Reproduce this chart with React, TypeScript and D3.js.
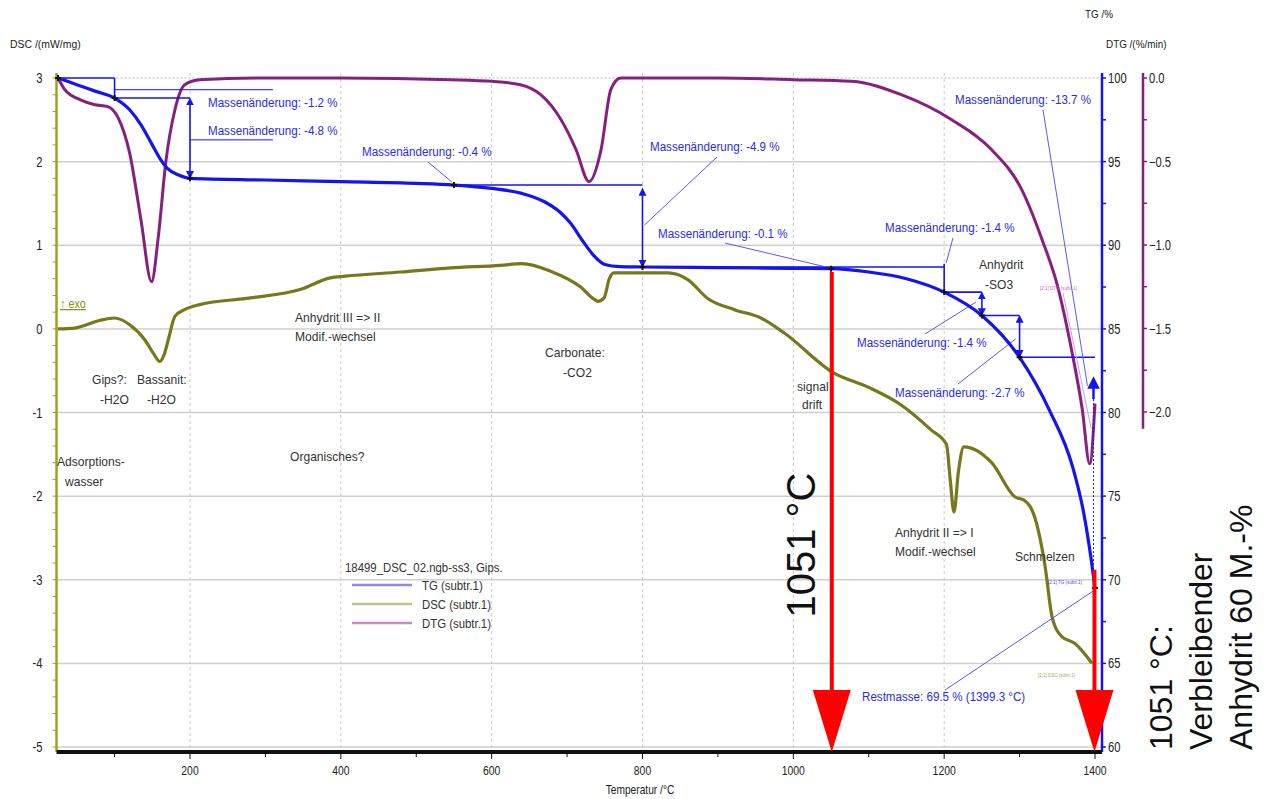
import React, { useEffect, useRef } from 'react';
import * as d3 from 'd3';

// TG (%) vs temperature (°C)
const tgData: [number, number][] = [
  [25, 100], [50, 99.6], [75, 99.2], [100, 98.8], [120, 98.1], [135, 97.2], [150, 96.0],
  [160, 95.2], [170, 94.6], [185, 94.2], [200, 94.0], [300, 93.9], [400, 93.8], [500, 93.7],
  [550, 93.6], [600, 93.4], [640, 93.1], [670, 92.6], [690, 92.0], [705, 91.3], [720, 90.3],
  [735, 89.4], [750, 88.85], [770, 88.72], [800, 88.7], [900, 88.66], [1000, 88.62],
  [1050, 88.6], [1100, 88.4], [1150, 88.0], [1200, 87.2], [1250, 85.8], [1300, 83.3],
  [1340, 80.1], [1370, 76.8], [1385, 74.0], [1395, 71.2], [1400, 69.5],
];

// DSC (mW/mg)
const dscData: [number, number][] = [
  [25, 0.0], [47, 0.01], [80, 0.1], [100, 0.13], [120, 0.05], [140, -0.13], [152, -0.3],
  [160, -0.39], [166, -0.3], [172, -0.1], [180, 0.15], [193, 0.23], [213, 0.29], [280, 0.37],
  [346, 0.47], [386, 0.61], [406, 0.63], [479, 0.68], [545, 0.73], [612, 0.76], [640, 0.78],
  [678, 0.69], [718, 0.5], [735, 0.36], [741, 0.33], [749, 0.37], [756, 0.6], [762, 0.67],
  [834, 0.67], [860, 0.59], [887, 0.36], [922, 0.23], [957, 0.13], [988, -0.05], [1054, -0.53],
  [1100, -0.7], [1143, -0.91], [1183, -1.21], [1203, -1.38], [1208, -1.8], [1213, -2.19],
  [1219, -1.7], [1226, -1.41], [1263, -1.6], [1294, -2.01], [1306, -2.05], [1320, -2.25],
  [1334, -2.85], [1343, -3.44], [1356, -3.68], [1373, -3.76], [1396, -4.0],
];

// DTG (%/min)
const dtgData: [number, number][] = [
  [25, 0.0], [34, -0.07], [54, -0.13], [74, -0.16], [90, -0.17], [105, -0.24], [120, -0.45],
  [135, -0.85], [149, -1.22], [158, -0.95], [168, -0.5], [180, -0.19], [193, -0.04],
  [213, -0.01], [300, 0.0], [400, 0.0], [545, -0.01], [600, -0.02], [638, -0.04], [665, -0.1],
  [692, -0.25], [712, -0.43], [729, -0.62], [745, -0.43], [758, -0.07], [771, 0.0], [900, 0.0],
  [1000, -0.01], [1077, -0.02], [1143, -0.1], [1210, -0.25], [1263, -0.43], [1303, -0.67],
  [1330, -0.97], [1350, -1.24], [1369, -1.63], [1383, -1.98], [1393, -2.31], [1400, -1.95],
];

const dscTicks = [3, 2, 1, 0, -1, -2, -3, -4, -5];
const tgTicks = [100, 95, 90, 85, 80, 75, 70, 65, 60];
const dtgTicks = [0, -0.5, -1, -1.5, -2];
const tempTicks = [200, 400, 600, 800, 1000, 1200, 1400];

// step points (T, TG) marked on the TG curve
const stepPoints: [number, number][] = [
  [100, 98.8], [200, 94.0], [550, 93.6], [800, 88.7], [1050, 88.6],
  [1200, 87.2], [1250, 85.8], [1300, 83.3], [1400, 69.5],
];
const stepLabels = ['-1.2', '-4.8', '-0.4', '-4.9', '-0.1', '-1.4', '-1.4', '-2.7', '-13.7'];

const notes = [
  { x: 92, y: 384, lines: ['Gips?:'] },
  { x: 100, y: 404, lines: ['-H2O'] },
  { x: 137, y: 384, lines: ['Bassanit:'] },
  { x: 147, y: 404, lines: ['-H2O'] },
  { x: 57, y: 466, lines: ['Adsorptions-'] },
  { x: 65, y: 486, lines: ['wasser'] },
  { x: 295, y: 322, lines: ['Anhydrit III => II', 'Modif.-wechsel'] },
  { x: 290, y: 461, lines: ['Organisches?'] },
  { x: 545, y: 357, lines: ['Carbonate:'] },
  { x: 563, y: 377, lines: ['-CO2'] },
  { x: 797, y: 391, lines: ['signal'] },
  { x: 802, y: 409, lines: ['drift'] },
  { x: 979, y: 269, lines: ['Anhydrit'] },
  { x: 985, y: 289, lines: ['-SO3'] },
  { x: 895, y: 537, lines: ['Anhydrit II => I', 'Modif.-wechsel'] },
  { x: 1015, y: 561, lines: ['Schmelzen'] },
];

const legendItems = [
  { name: 'TG (subtr.1)', color: '#8c8cf0' },
  { name: 'DSC (subtr.1)', color: '#c4c48a' },
  { name: 'DTG (subtr.1)', color: '#c98cc4' },
];

const W = 1276;
const H = 799;
const FONT = '"Liberation Sans", Arial, sans-serif';

const BLUE = '#1414f0';
const OLIVE = '#77771c';
const PURPLE = '#86207e';

type Sel = d3.Selection<SVGGElement, unknown, null, undefined>;

// squashed text, mimics the narrow font of the original export
const label = (
  g: Sel | d3.Selection<SVGSVGElement, unknown, null, undefined>,
  x: number,
  y: number,
  text: string,
  opts: { size?: number; sx?: number; fill?: string; anchor?: string } = {}
) =>
  (g as any)
    .append('text')
    .attr('transform', `translate(${x},${y}) scale(${opts.sx ?? 0.9},1)`)
    .attr('text-anchor', opts.anchor ?? 'start')
    .attr('font-family', FONT)
    .attr('font-size', opts.size ?? 13)
    .attr('fill', opts.fill ?? '#222')
    .text(text);

const App: React.FC = () => {
  const svgRef = useRef<SVGSVGElement>(null);

  useEffect(() => {
    if (!svgRef.current) return;
    const svg = d3.select(svgRef.current);
    svg.selectAll('*').remove();

    const x = d3.scaleLinear().domain([200, 1400]).range([190, 1095]);
    const yDsc = d3.scaleLinear().domain([3, -5]).range([78, 747]);
    const yTg = d3.scaleLinear().domain([100, 60]).range([78, 747]);
    const yDtg = d3.scaleLinear().domain([0, -2]).range([78, 412]);

    const left = x(23);
    const right = 1102;
    const top = 73;
    const bottom = 752;

    // grid
    const grid = svg.append('g');
    grid.selectAll('line.h')
      .data(dscTicks)
      .join('line')
      .attr('x1', left).attr('x2', right)
      .attr('y1', (d) => yDsc(d)).attr('y2', (d) => yDsc(d))
      .attr('stroke', '#cfcfcf').attr('stroke-width', 1.5)
      .attr('stroke-dasharray', (d) => (d === 3 ? '2,2' : null));
    grid.selectAll('line.v')
      .data(tempTicks.filter((t) => t < 1400))
      .join('line')
      .attr('x1', (d) => x(d)).attr('x2', (d) => x(d))
      .attr('y1', top).attr('y2', bottom)
      .attr('stroke', '#c8c8c8').attr('stroke-width', 1)
      .attr('stroke-dasharray', '3,3');

    // left DSC axis
    const la = svg.append('g');
    la.append('line').attr('x1', left).attr('x2', left).attr('y1', top).attr('y2', bottom)
      .attr('stroke', '#a0a01e').attr('stroke-width', 2.5);
    la.selectAll('line.t')
      .data(d3.range(3, -5.01, -0.2))
      .join('line')
      .attr('x1', left - 4).attr('x2', left)
      .attr('y1', (d) => yDsc(d)).attr('y2', (d) => yDsc(d))
      .attr('stroke', '#a0a01e').attr('stroke-width', 1);
    dscTicks.forEach((d) =>
      label(la, left - 14, yDsc(d) + 5, String(d), { size: 14, sx: 0.8, anchor: 'end' })
    );
    label(svg, 10, 48, 'DSC /(mW/mg)', { size: 11, sx: 0.95 });

    // right TG axis
    const ra = svg.append('g');
    ra.append('line').attr('x1', right).attr('x2', right).attr('y1', top).attr('y2', bottom)
      .attr('stroke', BLUE).attr('stroke-width', 2.5);
    ra.selectAll('line.t')
      .data(d3.range(100, 59.9, -2.5))
      .join('line')
      .attr('x1', right).attr('x2', right + 4)
      .attr('y1', (d) => yTg(d)).attr('y2', (d) => yTg(d))
      .attr('stroke', BLUE).attr('stroke-width', 1.5);
    tgTicks.forEach((d) => label(ra, right + 6, yTg(d) + 5, String(d), { size: 14, sx: 0.8 }));
    label(svg, 1085, 18, 'TG /%', { size: 11, sx: 0.9 });
    label(svg, 1106, 48, 'DTG /(%/min)', { size: 11, sx: 0.9 });

    // DTG axis
    const dx = 1143;
    const da = svg.append('g');
    da.append('line').attr('x1', dx).attr('x2', dx).attr('y1', top).attr('y2', yDtg(-2.1))
      .attr('stroke', PURPLE).attr('stroke-width', 2.5);
    da.selectAll('line.t')
      .data(d3.range(0, -2.01, -0.25))
      .join('line')
      .attr('x1', dx).attr('x2', dx + 4)
      .attr('y1', (d) => yDtg(d)).attr('y2', (d) => yDtg(d))
      .attr('stroke', PURPLE).attr('stroke-width', 1.5);
    dtgTicks.forEach((d) =>
      label(da, dx + 6, yDtg(d) + 5, d3.format('.1f')(d), { size: 14, sx: 0.8 })
    );

    // bottom axis
    const ba = svg.append('g');
    ba.append('rect').attr('x', left).attr('y', bottom - 2).attr('width', right - left).attr('height', 4)
      .attr('fill', '#111');
    ba.selectAll('line.t')
      .data(d3.range(100, 1401, 100))
      .join('line')
      .attr('x1', (d) => x(d)).attr('x2', (d) => x(d))
      .attr('y1', bottom).attr('y2', (d) => bottom + (d % 200 === 0 ? 7 : 5))
      .attr('stroke', '#111').attr('stroke-width', 1);
    tempTicks.forEach((d) =>
      label(ba, x(d), bottom + 23, String(d), { size: 13, sx: 0.8, anchor: 'middle' })
    );
    label(svg, 640, 794, 'Temperatur /°C', { size: 12, sx: 0.85, anchor: 'middle' });

    // curves
    const mk = (yScale: d3.ScaleLinear<number, number>) =>
      d3.line<[number, number]>()
        .x((d) => x(d[0]))
        .y((d) => yScale(d[1]))
        .curve(d3.curveMonotoneX);

    svg.append('path').datum(dtgData).attr('d', mk(yDtg))
      .attr('fill', 'none').attr('stroke', PURPLE).attr('stroke-width', 3);
    svg.append('path').datum(dscData).attr('d', mk(yDsc))
      .attr('fill', 'none').attr('stroke', OLIVE).attr('stroke-width', 3.2);

    // TG step annotations
    const ann = svg.append('g').attr('stroke', BLUE).attr('fill', 'none');
    const seg = (t0: number, m0: number, t1: number, m1: number, w = 1.6) =>
      ann.append('line')
        .attr('x1', x(t0)).attr('y1', yTg(m0))
        .attr('x2', x(t1)).attr('y2', yTg(m1))
        .attr('stroke-width', w);
    const pix = (x1: number, y1: number, x2: number, y2: number, w = 1) =>
      ann.append('line').attr('x1', x1).attr('y1', y1).attr('x2', x2).attr('y2', y2)
        .attr('stroke-width', w).attr('stroke', '#5a5af0');

    const defs = svg.append('defs');
    defs.append('marker').attr('id', 'ah').attr('viewBox', '0 0 10 10')
      .attr('refX', 5).attr('refY', 5).attr('markerWidth', 5).attr('markerHeight', 5)
      .attr('orient', 'auto-start-reverse')
      .append('path').attr('d', 'M0,0 L10,5 L0,10 z').attr('fill', BLUE);
    const arrow = (t: number, m0: number, m1: number) =>
      ann.append('line')
        .attr('x1', x(t)).attr('y1', yTg(m0))
        .attr('x2', x(t)).attr('y2', yTg(m1))
        .attr('stroke-width', 1.6)
        .attr('marker-start', 'url(#ah)').attr('marker-end', 'url(#ah)');

    seg(25, 100, 100, 100);
    seg(100, 100, 100, 98.8);
    seg(100, 98.8, 200, 98.8);
    seg(100, 99.3, 310, 99.3, 1);
    arrow(200, 98.6, 94.2);
    seg(200, 96.3, 310, 96.3, 1);
    seg(550, 93.6, 800, 93.6);
    arrow(800, 93.2, 88.9);
    seg(800, 88.7, 1200, 88.7);
    seg(1200, 88.9, 1200, 87.2);
    seg(1200, 87.2, 1250, 87.2);
    arrow(1250, 87.0, 86.0);
    seg(1250, 85.8, 1300, 85.8);
    arrow(1300, 85.6, 83.5);
    seg(1300, 83.3, 1400, 83.3);
    ann.append('line')
      .attr('x1', x(1398)).attr('y1', yTg(81.8))
      .attr('x2', x(1398)).attr('y2', yTg(80.8))
      .attr('stroke-width', 2.5).attr('marker-start', 'url(#ah)');
    ann.append('line')
      .attr('x1', x(1398)).attr('y1', yTg(80.8))
      .attr('x2', x(1398)).attr('y2', yTg(70.8))
      .attr('stroke-width', 1).attr('stroke-dasharray', '2,2');

    // leaders
    pix(428, 162, x(550) - 2, yTg(93.6) - 3);
    pix(x(800) + 2, 225, 717, 157);
    pix(725, 243, x(1050) - 2, yTg(88.6) - 1);
    pix(x(1200) + 2, yTg(88.7) - 4, 953, 238);
    pix(925, 334, x(1250) - 6, yTg(86.6));
    pix(958, 384, x(1300) - 4, yTg(84.4));
    pix(1043, 110, x(1390), yTg(81.6));
    pix(945, 690, x(1400) - 2, yTg(69.5) + 3);
    ann.append('line').attr('x1', 1063).attr('y1', 293).attr('x2', x(1395)).attr('y2', yDtg(-2.1))
      .attr('stroke', '#d79ad3').attr('stroke-width', 1);

    // TG curve on top
    svg.append('path').datum(tgData).attr('d', mk(yTg))
      .attr('fill', 'none').attr('stroke', BLUE).attr('stroke-width', 3.2);

    // step markers
    svg.append('g').selectAll('path')
      .data([[25, 100] as [number, number], ...stepPoints])
      .join('path')
      .attr('transform', (d) => `translate(${x(d[0])},${yTg(d[1])})`)
      .attr('d', 'M-3,0 L3,0 M0,-3 L0,3')
      .attr('stroke', '#111').attr('stroke-width', 2);

    // step labels
    const labelPos: [number, number][] = [
      [208, 107], [208, 135], [362, 156], [650, 151], [658, 238],
      [885, 232], [857, 347], [895, 397], [955, 104],
    ];
    const sl = svg.append('g');
    stepLabels.forEach((d, i) =>
      label(sl, labelPos[i][0], labelPos[i][1], `Massenänderung: ${d} %`, {
        size: 13.5, sx: 0.86, fill: '#2a2af0',
      })
    );
    label(sl, 862, 701, 'Restmasse: 69.5 % (1399.3 °C)', { size: 13.5, sx: 0.86, fill: '#2a2af0' });

    // tiny cursor labels
    const tiny = [
      { x: 1040, y: 290, t: '[2:1] DTG (subtr.1)', c: '#c070bc' },
      { x: 1048, y: 584, t: '[2:1] TG (subtr.1)', c: '#4a4af0' },
      { x: 1038, y: 677, t: '[2:1] DSC (subtr.1)', c: '#a8a860' },
    ];
    tiny.forEach((d) => label(sl, d.x, d.y, d.t, { size: 5, sx: 0.9, fill: d.c }));

    // exo marker
    label(svg, 60, 308, '↑ exo', { size: 12, sx: 0.9, fill: '#8a8a20' })
      .attr('text-decoration', 'underline');

    // notes
    const ng = svg.append('g');
    notes.forEach((n) => {
      n.lines.forEach((l, i) => {
        label(ng, n.x, n.y + i * 19, l, { size: 13, sx: 0.93, fill: '#333' });
      });
    });

    // legend
    const lg = svg.append('g');
    label(lg, 345, 572, '18499_DSC_02.ngb-ss3, Gips.', { size: 12, sx: 0.95, fill: '#333' });
    legendItems.forEach((it, i) => {
      const yy = 585 + i * 19;
      lg.append('line').attr('x1', 352).attr('x2', 412).attr('y1', yy).attr('y2', yy)
        .attr('stroke', it.color).attr('stroke-width', 2.5);
      label(lg, 422, yy + 5, it.name, { size: 12, sx: 0.95, fill: '#333' });
    });

    // red arrows
    const red = svg.append('g').attr('fill', '#ff0000').attr('stroke', '#ff0000');
    const redArrow = (t: number, top0: number) => {
      const cx = x(t);
      red.append('line').attr('x1', cx).attr('x2', cx).attr('y1', top0).attr('y2', 692)
        .attr('stroke-width', 4);
      red.append('path')
        .attr('d', `M${cx - 19},690 L${cx + 19},690 L${cx},${bottom} Z`)
        .attr('stroke', 'none');
    };
    redArrow(1051, yTg(88.4));
    redArrow(1399.3, yTg(70.6));

    // big rotated captions
    svg.append('text')
      .attr('transform', `translate(815,545) rotate(-90)`)
      .attr('text-anchor', 'middle')
      .attr('font-family', FONT).attr('font-size', 40).attr('fill', '#111')
      .text('1051 °C');
    ['1051 °C:', 'Verbleibender', 'Anhydrit 60 M.-%'].forEach((t, i) => {
      svg.append('text')
        .attr('transform', `translate(${1172 + i * 40},750) rotate(-90)`)
        .attr('font-family', FONT).attr('font-size', 32).attr('fill', '#111')
        .text(t);
    });
  }, []);

  return (
    <svg
      ref={svgRef}
      width={W}
      height={H}
      style={{ position: 'absolute', left: 0, top: 0, background: '#fff' }}
    />
  );
};

export default App;
